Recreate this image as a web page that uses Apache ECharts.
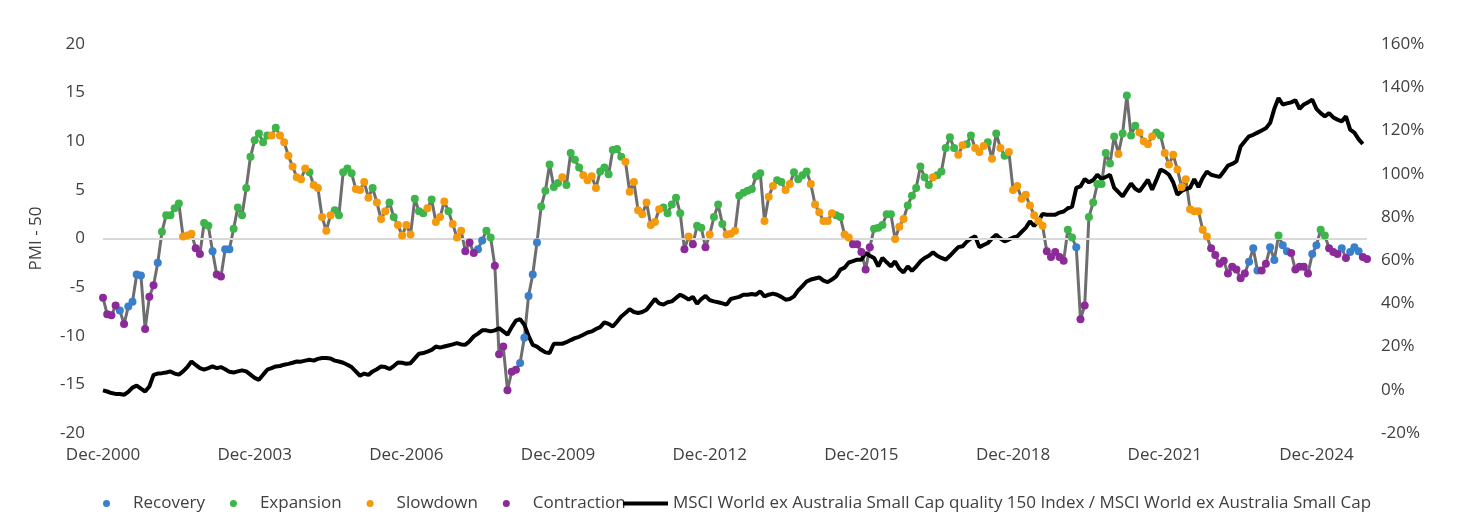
<!DOCTYPE html>
<html><head><meta charset="utf-8">
<script src="https://cdn.jsdelivr.net/npm/echarts@6/dist/echarts.min.js"></script>
<style>html,body{margin:0;padding:0;background:#fff}#c{width:1464px;height:527px}</style>
</head><body><div id="c"></div>
<script>
const startYear = 2000; // Dec-2000 first month
const months = [];
for (let i = 0; i < 301; i++) {
  const mi = (11 + i) % 12, y = startYear + Math.floor((11 + i) / 12);
  months.push(['Jan','Feb','Mar','Apr','May','Jun','Jul','Aug','Sep','Oct','Nov','Dec'][mi] + '-' + y);
}
const pmi = [-6.1,-7.8,-7.9,-6.9,-7.4,-8.8,-7.0,-6.5,-3.7,-3.8,-9.3,-6.0,
-4.8,-2.5,0.7,2.4,2.4,3.1,3.6,0.2,0.3,0.5,-1.0,-1.6,
1.6,1.3,-1.3,-3.7,-3.9,-1.1,-1.1,1.0,3.2,2.4,5.2,8.4,
10.1,10.8,9.9,10.6,10.6,11.4,10.6,9.9,8.5,7.4,6.3,6.1,
7.2,6.8,5.5,5.2,2.2,0.8,2.4,2.9,2.4,6.8,7.2,6.7,
5.1,5.0,5.8,4.2,5.2,3.7,2.0,2.8,3.7,2.2,1.4,0.3,
1.4,0.4,4.1,2.8,2.6,3.1,4.0,1.7,2.2,3.8,2.8,1.5,
0.1,0.8,-1.3,-0.4,-1.5,-1.1,-0.2,0.8,0.1,-2.8,-11.9,-11.1,
-15.6,-13.7,-13.5,-12.8,-10.2,-5.9,-3.7,-0.4,3.3,4.9,7.6,5.3,
5.7,6.3,5.5,8.8,8.1,7.3,6.5,6.0,6.4,5.2,6.9,7.3,
6.6,9.1,9.2,8.4,7.9,4.8,5.8,2.9,2.5,3.7,1.4,1.7,
3.0,3.2,2.6,3.5,4.2,2.6,-1.1,0.2,-0.6,1.3,1.1,-0.9,
0.4,2.2,3.5,1.5,0.4,0.5,0.8,4.4,4.7,4.9,5.1,6.4,
6.7,1.8,4.3,5.4,6.0,5.8,5.0,5.6,6.8,6.1,6.5,6.9,
5.6,3.5,2.7,1.8,1.8,2.6,2.4,2.2,0.4,0.1,-0.6,-0.6,
-1.4,-3.2,-0.9,1.0,1.1,1.4,2.5,2.5,-0.05,1.2,2.0,3.4,
4.4,5.2,7.4,6.3,5.5,6.3,6.5,6.9,9.3,10.4,9.3,8.6,
9.6,9.7,10.6,9.3,8.9,9.5,9.9,8.2,10.8,9.3,8.5,8.9,
5.0,5.4,4.1,4.5,3.4,2.4,1.8,1.3,-1.3,-1.9,-1.4,-1.9,
-2.3,0.9,0.1,-0.9,-8.3,-6.9,2.2,3.7,5.6,5.6,8.8,7.7,
10.5,8.7,10.8,14.7,10.6,11.6,10.9,10.0,9.7,10.5,10.9,10.6,
8.8,7.6,8.6,7.1,5.3,6.1,3.0,2.8,2.8,0.9,0.2,-1.0,
-1.7,-2.6,-2.3,-3.6,-2.9,-3.2,-4.1,-3.6,-2.4,-1.0,-3.3,-3.3,
-2.6,-0.9,-2.2,0.3,-0.7,-1.3,-1.5,-3.2,-2.9,-2.9,-3.6,-1.6,
-0.7,0.9,0.3,-1.0,-1.4,-1.6,-1.0,-2.0,-1.4,-0.9,-1.3,-1.9,
-2.1];
const phase = [
'CCCCRCRRRRCC','CREEEEESSSCC','EERCCRREEEEE','EEEESESSSSSS',
'SESSSSSEEEEE','SSSSESSSEESS','SSEEESESSSES','SSCCCRREECCC',
'CCCRRRRREEEE','ESEEEESSSSEE','EEEESSSSSSSS','SEEEEECSCEEC',
'SEEESSSEEEEE','ESSSEESSEEEE','SSSSSSEESSCC','CCCEEEEESSSE',
'EEEEESEEEEES','SEESSSESESES','SSSSSSSSCCCC','CEERCCEEEEEE',
'ESEEEESSSSEE','SSSSSSSSSSSC','CCCCCCCCRRRC','CRRERRCCCCCR',
'REECCCRCRRRC','C'].join('');
const phaseNames = { R: 'Recovery', E: 'Expansion', S: 'Slowdown', C: 'Contraction' };
const phaseColors = { R: '#3a7fcc', E: '#3db54a', S: '#f59a0c', C: '#8d2a99' };
const ratio = [-0.3,-0.8,-1.5,-1.9,-2.0,-2.3,-1.0,1.0,1.9,0.5,-0.8,1.5,
6.9,7.5,7.7,8.0,8.5,7.5,7.0,8.5,10.5,13.1,11.5,10.0,
9.3,10.0,10.8,10.0,10.5,9.5,8.3,8.0,8.5,9.0,8.5,7.0,
5.5,4.6,7.0,9.3,10.0,10.8,11.0,11.6,12.0,12.5,13.1,13.0,
13.5,13.9,13.5,14.3,14.7,14.7,14.5,13.5,13.1,12.5,11.6,10.5,
8.5,6.5,7.5,6.9,8.5,9.5,10.8,10.5,9.6,11.0,12.6,12.5,
12.0,12.3,14.5,16.7,17.0,17.7,18.5,20.0,19.5,20.0,20.5,21.0,
21.6,21.0,20.8,22.5,24.7,26.0,27.5,27.5,27.0,27.5,28.5,27.0,
25.5,29.0,32.0,32.7,30.1,25.0,20.8,20.0,18.5,17.3,17.0,21.3,
21.3,21.3,22.0,23.0,23.9,24.5,25.5,26.5,27.0,28.1,29.0,31.2,
30.5,29.3,31.5,33.9,35.5,37.3,36.0,35.5,36.0,37.0,39.5,42.0,
40.0,39.4,40.5,40.9,42.5,44.0,43.0,41.7,43.0,39.8,42.0,43.4,
41.5,40.9,40.5,40.0,39.4,42.0,42.5,43.0,44.0,44.0,44.3,44.0,
45.5,43.2,44.0,44.5,44.0,43.0,41.7,42.0,43.2,46.0,48.0,50.1,
51.0,51.5,52.0,50.5,49.8,51.0,52.5,55.6,56.5,58.9,59.5,60.2,
60.2,63.3,62.0,61.0,57.1,61.0,59.0,57.1,59.4,56.0,54.3,57.1,
55.0,57.0,59.4,61.0,62.0,63.6,62.0,61.0,60.2,62.0,64.0,66.0,
66.4,68.5,70.0,71.0,66.0,67.0,67.9,70.0,71.8,70.0,68.7,69.5,
70.5,71.0,73.0,74.9,77.9,75.8,78.0,81.3,81.0,81.0,81.0,82.0,
82.5,84.0,84.7,93.4,94.1,97.5,96.0,97.0,99.5,97.5,98.5,99.5,
93.4,91.5,89.5,92.5,95.4,93.0,91.8,94.5,97.2,92.6,97.0,101.9,
101.0,99.5,96.0,90.3,92.0,92.9,93.4,97.5,93.8,98.0,101.0,99.5,
99.0,98.5,101.0,103.7,104.5,105.7,112.6,115.0,117.3,118.0,119.0,120.0,
121.0,123.4,130.0,135.0,132.0,132.5,133.0,134.0,130.0,132.0,133.0,134.3,
130.0,128.0,126.5,128.0,126.0,125.0,124.2,126.5,120.4,119.0,116.0,113.7];
const ratioName = 'MSCI World ex Australia Small Cap quality 150 Index / MSCI World ex Australia Small Cap';

const font = 'Open Sans';
const txt = '#404040';
const scatterSeries = ['R','E','S','C'].map(k => ({
  name: phaseNames[k], type: 'scatter', yAxisIndex: 0, symbolSize: 8, z: 5,
  itemStyle: { color: phaseColors[k], opacity: 1 },
  data: pmi.map((v, i) => phase[i] === k ? v : '-')
}));
const chart = echarts.init(document.getElementById('c'));
chart.setOption({
  animation: false,
  textStyle: { fontFamily: font },
  grid: { left: 103, right: 97, top: 44, bottom: 94 },
  legend: [{
    left: 98, top: 490, itemWidth: 7, itemHeight: 7, itemGap: 25, icon: 'circle',
    textStyle: { fontSize: 17, color: txt, fontFamily: font, padding: [0, 0, 0, 18] },
    data: ['Recovery','Expansion','Slowdown','Contraction']
  }, {
    left: 618, top: 490, itemWidth: 45, itemHeight: 4,
    textStyle: { fontSize: 17, color: txt, fontFamily: font },
    data: [{ name: ratioName, icon: 'rect' }]
  }],
  xAxis: {
    type: 'category', data: months, boundaryGap: false,
    axisLine: { show: false }, axisTick: { show: false },
    axisLabel: { interval: 35, color: txt, fontSize: 17, margin: 14, fontFamily: font }
  },
  yAxis: [{
    type: 'value', min: -20, max: 20, interval: 5, name: 'PMI - 50',
    nameLocation: 'middle', nameGap: 58, nameRotate: 90,
    nameTextStyle: { fontSize: 17, color: txt, fontFamily: font },
    axisLabel: { color: txt, fontSize: 17, margin: 18, fontFamily: font },
    splitLine: { show: false }, axisLine: { show: false }, axisTick: { show: false }
  }, {
    type: 'value', min: -20, max: 160, interval: 20, position: 'right',
    axisLabel: { color: txt, fontSize: 17, margin: 14, formatter: '{value}%', fontFamily: font },
    splitLine: { show: false }, axisLine: { show: false }, axisTick: { show: false }
  }],
  series: [{
    name: 'PMI', type: 'line', yAxisIndex: 0, data: pmi, symbol: 'none', z: 3,
    lineStyle: { color: '#6e6e6e', width: 3 },
    markLine: { silent: true, symbol: 'none', label: { show: false },
      lineStyle: { color: '#d9d9d9', width: 2, type: 'solid' }, data: [{ yAxis: 0 }] }
  }, ...scatterSeries, {
    name: ratioName, type: 'line', yAxisIndex: 1, data: ratio, symbol: 'none', z: 4,
    itemStyle: { color: '#000' }, lineStyle: { color: '#000', width: 4 }
  }]
});
</script></body></html>
